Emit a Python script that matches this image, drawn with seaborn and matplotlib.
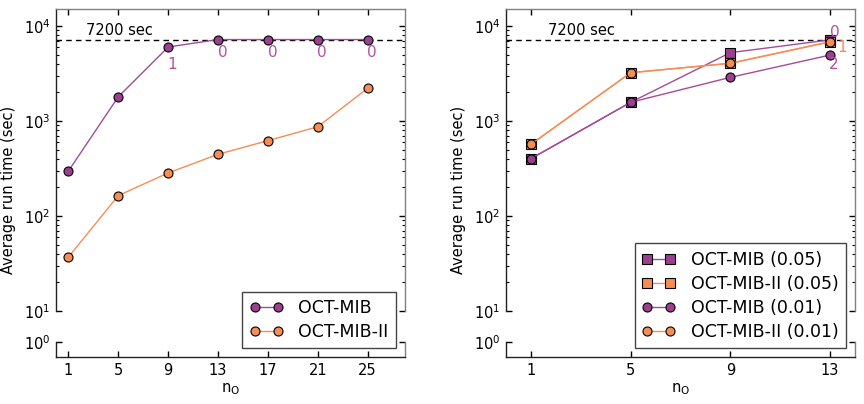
import numpy as np
import pandas as pd
import matplotlib
matplotlib.use("Agg")
import matplotlib.pyplot as plt
import seaborn as sns
from matplotlib.ticker import LogLocator, NullLocator, FixedLocator, NullFormatter

# ---------------- data ----------------
left_x = [1, 5, 9, 13, 17, 21, 25]
left_mib = [298, 1800, 6010, 7200, 7200, 7200, 7200]
left_mib2 = [37, 164, 284, 446, 621, 870, 2210]
left_labels = ["", "", "1", "0", "0", "0", "0"]

right_x = [1, 5, 9, 13]
right_mib_005 = [401, 1573, 5240, 7150]
right_mib2_005 = [568, 3225, 4050, 6840]
right_mib_001 = [401, 1573, 2880, 4950]
right_mib2_001 = [568, 3225, 4050, 6800]

time_limit = 7200
time_label = "7200 sec"

PURPLE = "#9b3f90"
PURPLE_LINE = "#a34c98"
PURPLE_TXT = "#b052a3"
ORANGE = "#f58d55"

plt.rcParams.update({
    "font.family": ["DejaVu Sans"],
    "font.size": 10,
    "mathtext.fontset": "dejavusans",
    "xtick.direction": "in",
    "ytick.direction": "in",
    "xtick.top": True,
    "xtick.bottom": True,
    "ytick.left": True,
    "ytick.right": True,
    "xtick.major.size": 4.5,
    "ytick.major.size": 4.5,
    "ytick.minor.size": 2.5,
    "xtick.major.width": 1.0,
    "ytick.major.width": 1.0,
    "ytick.minor.width": 0.8,
    "xtick.color": "black",
    "ytick.color": "black",
    "axes.grid": False,
})

fig = plt.figure(figsize=(8.64, 4.04), dpi=100)
W, H = 864.0, 404.0


def make_panel(left_px, right_px):
    top_px, mid_px, low_top_px, bot_px = 9, 311, 342, 357
    ax = fig.add_axes([left_px / W, 1 - mid_px / H, (right_px - left_px) / W, (mid_px - top_px) / H])
    axb = fig.add_axes([left_px / W, 1 - bot_px / H, (right_px - left_px) / W, (bot_px - low_top_px) / H])
    for a in (ax, axb):
        a.set_yscale("log")
        a.set_facecolor("none")
        for s in a.spines.values():
            s.set_linewidth(1.0)
        a.spines["left"].set_color("#222222")
        a.spines["bottom"].set_color("#222222")
        a.spines["top"].set_color("#808080")
        a.spines["right"].set_color("#808080")
    ax.spines["bottom"].set_visible(False)
    axb.spines["top"].set_visible(False)
    ax.set_ylim(10, 10 ** (4 + 17 / 95.0))
    axb.set_ylim(10 ** (-15 / 95.0), 1.0)
    ax.yaxis.set_major_locator(LogLocator(base=10))
    ax.yaxis.set_minor_locator(LogLocator(base=10, subs=np.arange(2, 10)))
    ax.yaxis.set_minor_formatter(NullFormatter())
    axb.yaxis.set_major_locator(FixedLocator([1.0]))
    axb.yaxis.set_minor_locator(NullLocator())
    axb.set_yticklabels(["$10^{0}$"])
    ax.tick_params(axis="y", which="both", left=True, right=True, labelleft=True, labelright=False)
    axb.tick_params(axis="y", which="both", left=True, right=True, labelleft=True, labelright=False)
    ax.tick_params(axis="x", which="both", top=True, bottom=False, labelbottom=False, labeltop=False)
    axb.tick_params(axis="x", which="both", top=False, bottom=True, labelbottom=True)
    for a in (ax, axb):
        a.tick_params(axis="both", which="major", labelsize=10.5, pad=4)
    return ax, axb


def legend_for(ax):
    leg = ax.legend(loc="lower right", bbox_to_anchor=(0.974, -0.1235), borderaxespad=0,
                    numpoints=2, fontsize=12.5, fancybox=False, framealpha=1, edgecolor="#444444",
                    labelspacing=0.35, handletextpad=0.9, borderpad=0.42, handlelength=1.9)
    leg.get_frame().set_linewidth(1.0)
    leg.set_zorder(10)
    return leg


# ---------------- left panel ----------------
axL, axLb = make_panel(56, 405)
sns.lineplot(x=left_x, y=left_mib, ax=axL, color=PURPLE_LINE, linewidth=1.0,
             marker="o", markersize=6.5, markerfacecolor=PURPLE, markeredgecolor="black",
             markeredgewidth=0.8, label="OCT-MIB", zorder=3)
sns.lineplot(x=left_x, y=left_mib2, ax=axL, color=ORANGE, linewidth=1.0,
             marker="o", markersize=6.5, markerfacecolor=ORANGE, markeredgecolor="black",
             markeredgewidth=0.8, label="OCT-MIB-II", zorder=3)
axL.axhline(time_limit, color="black", linestyle=(0, (4, 3)), linewidth=1.0, zorder=2)
axL.annotate(time_label, xy=(2.4, time_limit), xytext=(0, 3), textcoords="offset points",
             ha="left", va="baseline", fontsize=10.5)
for xv, yv, lab in zip(left_x, left_mib, left_labels):
    if lab:
        dy = -12.5 if lab == "1" else -9.0
        axL.annotate(lab, xy=(xv, yv), xytext=(3.2, dy), textcoords="offset points",
                     ha="center", va="center", fontsize=11, color=PURPLE_TXT)
for a in (axL, axLb):
    a.set_xlim(0, 28)
    a.set_xticks(left_x)
axLb.set_xticklabels([str(v) for v in left_x])
axL.set_ylabel("Average run time (sec)", fontsize=10.5)
axL.yaxis.set_label_coords(-0.116, 0.40)
axLb.set_xlabel(r"$\mathrm{n_O}$", fontsize=10.5, labelpad=3)
legend_for(axL)

# ---------------- right panel ----------------
axR, axRb = make_panel(506, 855)
series = [
    (right_mib_005, PURPLE_LINE, PURPLE, "s", "OCT-MIB (0.05)"),
    (right_mib2_005, ORANGE, ORANGE, "s", "OCT-MIB-II (0.05)"),
    (right_mib_001, PURPLE_LINE, PURPLE, "o", "OCT-MIB (0.01)"),
    (right_mib2_001, ORANGE, ORANGE, "o", "OCT-MIB-II (0.01)"),
]
for i, (yv, lc, mc, mk, lab) in enumerate(series):
    sns.lineplot(x=right_x, y=yv, ax=axR, color=lc, linewidth=1.0,
                 marker=mk, markersize=6.5, markerfacecolor=mc, markeredgecolor="black",
                 markeredgewidth=0.8, label=lab, zorder=3 + i)
axR.axhline(time_limit, color="black", linestyle=(0, (4, 3)), linewidth=1.0, zorder=2)
axR.annotate(time_label, xy=(1.7, time_limit), xytext=(0, 3), textcoords="offset points",
             ha="left", va="baseline", fontsize=10.5)
axR.annotate("0", xy=(right_x[-1], right_mib_005[-1]), xytext=(3.1, 5.3), textcoords="offset points",
             ha="center", va="center", fontsize=11, color=PURPLE_TXT, zorder=10)
axR.annotate("1", xy=(right_x[-1], right_mib2_001[-1]), xytext=(8.4, -4.1), textcoords="offset points",
             ha="center", va="center", fontsize=11, color=ORANGE, zorder=10)
axR.annotate("2", xy=(right_x[-1], right_mib_001[-1]), xytext=(2.9, -6.7), textcoords="offset points",
             ha="center", va="center", fontsize=11, color=PURPLE_TXT, zorder=10)
for a in (axR, axRb):
    a.set_xlim(0, 14)
    a.set_xticks(right_x)
axRb.set_xticklabels([str(v) for v in right_x])
axR.set_ylabel("Average run time (sec)", fontsize=10.5)
axR.yaxis.set_label_coords(-0.116, 0.40)
axRb.set_xlabel(r"$\mathrm{n_O}$", fontsize=10.5, labelpad=3)
legend_for(axR)

fig.savefig("out.png", dpi=100)
